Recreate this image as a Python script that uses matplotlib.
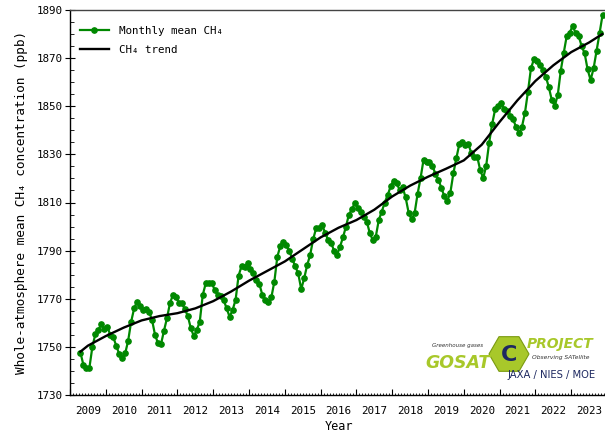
import numpy as np
import matplotlib.pyplot as plt
from matplotlib.ticker import MultipleLocator
from matplotlib.patches import RegularPolygon

plt.rcParams['font.family'] = ['DejaVu Sans Mono']

# whole-atmosphere monthly mean CH4 (ppb); 2009 starts in April, 2023 ends in November
ch4_2009 = [1747.6, 1742.5, 1741.1, 1741.3, 1750.0, 1755.3, 1757.0, 1759.5, 1757.3]
ch4_2010 = [1758.4, 1755.0, 1754.0, 1750.5, 1747.0, 1745.5, 1747.3, 1752.6, 1760.5, 1766.0, 1768.8, 1767.0]
ch4_2011 = [1765.3, 1765.6, 1764.6, 1761.2, 1755.0, 1751.5, 1751.1, 1756.7, 1761.9, 1768.1, 1771.6, 1770.6]
ch4_2012 = [1768.4, 1768.1, 1765.6, 1762.8, 1757.7, 1754.5, 1757.0, 1760.5, 1771.6, 1776.4, 1776.7, 1776.7]
ch4_2013 = [1773.6, 1771.6, 1771.0, 1769.5, 1766.0, 1762.5, 1765.3, 1769.5, 1779.5, 1783.6, 1783.1, 1784.7]
ch4_2014 = [1782.4, 1780.6, 1778.0, 1776.0, 1771.5, 1769.5, 1768.8, 1770.6, 1777.1, 1787.5, 1791.9, 1793.7]
ch4_2015 = [1792.3, 1790.0, 1786.5, 1783.5, 1780.5, 1774.0, 1778.5, 1784.0, 1788.2, 1794.7, 1799.3, 1799.3]
ch4_2016 = [1800.7, 1797.5, 1794.5, 1793.3, 1790.0, 1788.2, 1791.6, 1795.5, 1800.0, 1805.0, 1807.2, 1809.9]
ch4_2017 = [1807.6, 1806.2, 1804.1, 1802.0, 1797.2, 1794.4, 1795.8, 1802.7, 1806.2, 1810.0, 1813.1, 1816.8]
ch4_2018 = [1819.1, 1818.0, 1815.2, 1816.3, 1812.1, 1805.8, 1803.0, 1805.5, 1813.5, 1820.1, 1827.7, 1827.0]
ch4_2019 = [1827.0, 1825.0, 1822.0, 1819.5, 1816.0, 1812.5, 1810.8, 1814.1, 1822.1, 1828.4, 1834.3, 1835.3]
ch4_2020 = [1833.9, 1834.3, 1830.7, 1829.0, 1829.0, 1823.5, 1820.1, 1825.2, 1834.9, 1842.6, 1848.7, 1850.1]
ch4_2021 = [1851.5, 1848.7, 1848.2, 1846.0, 1844.6, 1841.5, 1838.8, 1841.5, 1847.3, 1856.0, 1865.7, 1869.5]
ch4_2022 = [1868.9, 1867.2, 1865.1, 1862.3, 1857.9, 1852.6, 1850.1, 1854.7, 1864.8, 1872.2, 1879.2, 1880.6]
ch4_2023 = [1883.4, 1880.3, 1879.2, 1875.0, 1872.0, 1865.3, 1860.9, 1865.7, 1873.0, 1880.3, 1887.9]

# long-term trend, sampled every half year (decimal year, ppb)
trend_time = [2009.29, 2009.5, 2010.0, 2010.5, 2011.0, 2011.5, 2012.0, 2012.5, 2013.0, 2013.5,
              2014.0, 2014.5, 2015.0, 2015.5, 2016.0, 2016.5, 2017.0, 2017.5, 2018.0, 2018.5,
              2019.0, 2019.5, 2020.0, 2020.5, 2021.0, 2021.5, 2022.0, 2022.5, 2023.0, 2023.5, 2023.87]
trend_ch4 = [1748.0, 1750.5, 1754.5, 1758.0, 1761.0, 1762.8, 1764.0, 1766.0, 1769.0, 1773.0,
             1777.5, 1781.5, 1785.5, 1790.5, 1795.5, 1799.5, 1802.7, 1807.0, 1812.5, 1817.0,
             1820.7, 1824.0, 1827.5, 1834.0, 1843.5, 1852.5, 1860.5, 1867.0, 1872.5, 1876.5, 1880.0]

years = list(range(2009, 2024))
y_ticks = [1730, 1750, 1770, 1790, 1810, 1830, 1850, 1870, 1890]

monthly = np.concatenate([ch4_2009, ch4_2010, ch4_2011, ch4_2012, ch4_2013, ch4_2014, ch4_2015,
                          ch4_2016, ch4_2017, ch4_2018, ch4_2019, ch4_2020, ch4_2021, ch4_2022,
                          ch4_2023])
# mid-month positions starting at April 2009
t = 2009 + (3 + np.arange(len(monthly)) + 0.5) / 12

fig = plt.figure(figsize=(6.05, 4.33), dpi=100)
ax = fig.add_axes([70 / 605, 38 / 433, 537 / 605, 385 / 433])

ax.plot(t, monthly, color='#008800', lw=1.6, marker='o', ms=3.8,
        label='Monthly mean CH\u2084', zorder=3)
ax.plot(trend_time, trend_ch4, color='black', lw=1.7, label='CH\u2084 trend', zorder=4)

ax.set_xlim(2009, 2024)
ax.set_ylim(1730, 1890)
ax.set_yticks(y_ticks)
ax.yaxis.set_minor_locator(MultipleLocator(5))
ax.xaxis.set_major_locator(MultipleLocator(1))
ax.xaxis.set_minor_locator(MultipleLocator(1 / 12))
ax.tick_params(axis='y', which='major', direction='inout', length=7, labelsize=7.8, pad=2)
ax.tick_params(axis='y', which='minor', direction='in', length=3)
ax.tick_params(axis='x', which='major', direction='in', length=4, labelbottom=False)
ax.tick_params(axis='x', which='minor', direction='in', length=1.5)
for s in ax.spines.values():
    s.set_linewidth(1.0)
ax.spines['top'].set_color('#444444')

# year labels sit in the middle of each year
for y in years:
    ax.text(y + 0.5, -0.042, str(y), transform=ax.get_xaxis_transform(),
            ha='center', va='center', fontsize=7.8)

ax.set_xlabel('Year', fontsize=8.5)
ax.xaxis.set_label_coords(0.5, -0.066)
ax.set_ylabel('Whole-atmosphere mean CH\u2084 concentration (ppb)', fontsize=9.2)
ax.yaxis.set_label_coords(-0.078, 0.5)

ax.legend(loc='upper left', frameon=False, fontsize=7.8, handlelength=2.7,
          handletextpad=0.9, labelspacing=0.9, bbox_to_anchor=(0.0, 0.985))

# GOSAT project logo
lime = '#a8c82a'
navy = '#1d2860'
fig.text(458 / 605, 1 - 345 / 433, 'Greenhouse gases', fontsize=4, style='italic',
         color='#333333', ha='center', va='center', family='DejaVu Sans')
fig.text(458 / 605, 1 - 363 / 433, 'GOSAT', fontsize=12.5, weight='bold', color=lime,
         ha='center', va='center', family='DejaVu Sans', style='italic')
hexagon = RegularPolygon((5.09, (433 - 354) / 100), 6, radius=0.2, orientation=np.pi / 6,
                         facecolor=lime, edgecolor='#7a9a10', lw=0.8,
                         transform=fig.dpi_scale_trans)
fig.patches.append(hexagon)
fig.text(509 / 605, 1 - 355 / 433, 'C', fontsize=16, weight='bold', color=navy,
         ha='center', va='center', family='DejaVu Sans')
fig.text(560 / 605, 1 - 344 / 433, 'PROJECT', fontsize=10, weight='bold', color=lime,
         ha='center', va='center', family='DejaVu Sans', style='italic')
fig.text(561 / 605, 1 - 357 / 433, 'Observing SATellite', fontsize=4.3, style='italic',
         color='#333333', ha='center', va='center', family='DejaVu Sans')
fig.text(552 / 605, 1 - 375 / 433, 'JAXA / NIES / MOE', fontsize=7.2, color=navy,
         ha='center', va='center', family='DejaVu Sans')

fig.savefig('out.png', dpi=100)
